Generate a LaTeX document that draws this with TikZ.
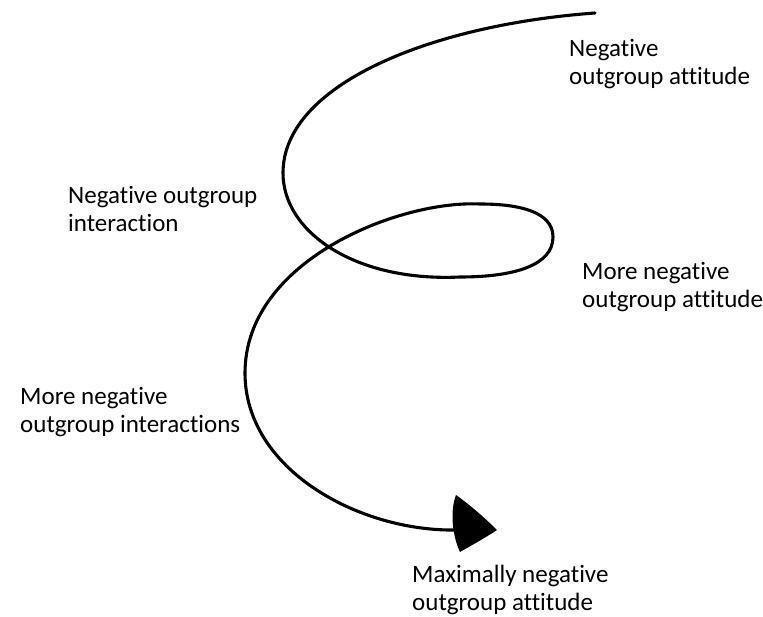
\documentclass[tikz,border=0pt]{standalone}
\usepackage{fontspec}
\setmainfont[Ligatures={NoCommon}]{Carlito}
\begin{document}
\begin{tikzpicture}[x=1pt,y=-1pt,
  lbl/.style={anchor=base west,inner sep=0pt,align=left,font=\fontsize{25}{28}\selectfont},
  spiral/.style={line width=3.1pt,line cap=round,line join=round}]
\useasboundingbox (0,0) rectangle (763,617);
\coordinate (s0) at (595,13);
\coordinate (s1) at (283,173);
\coordinate (s2) at (460,277);
\coordinate (s3) at (553,237);
\coordinate (s4) at (480,204);
\coordinate (s5) at (245,373);
\coordinate (s6) at (457,530);
\draw[spiral] (s0) .. controls (430,25) and (283,85) .. (s1)
  .. controls (283,232) and (355,282) .. (s2)
  .. controls (515,277) and (553,265) .. (s3)
  .. controls (553,212) and (520,204) .. (s4)
  .. controls (400,200) and (245,260) .. (s5)
  .. controls (245,470) and (360,532) .. (s6);
\fill[line join=round] (456,495) .. controls (470,505) and (485,518) .. (497,530)
  .. controls (485,538) and (472,545) .. (460,552)
  .. controls (452,535) and (450,510) .. cycle;
\node[lbl] (t1) at (569,85) {Negative\\outgroup attitude};
\node[lbl] (t2) at (68,232) {Negative outgroup\\interaction};
\node[lbl] (t3) at (582,308) {More negative\\outgroup attitude};
\node[lbl] (t4) at (20,432) {More negative\\outgroup interactions};
\node[lbl] (t5) at (412,610) {Maximally negative\\outgroup attitude};
\end{tikzpicture}
\end{document}
